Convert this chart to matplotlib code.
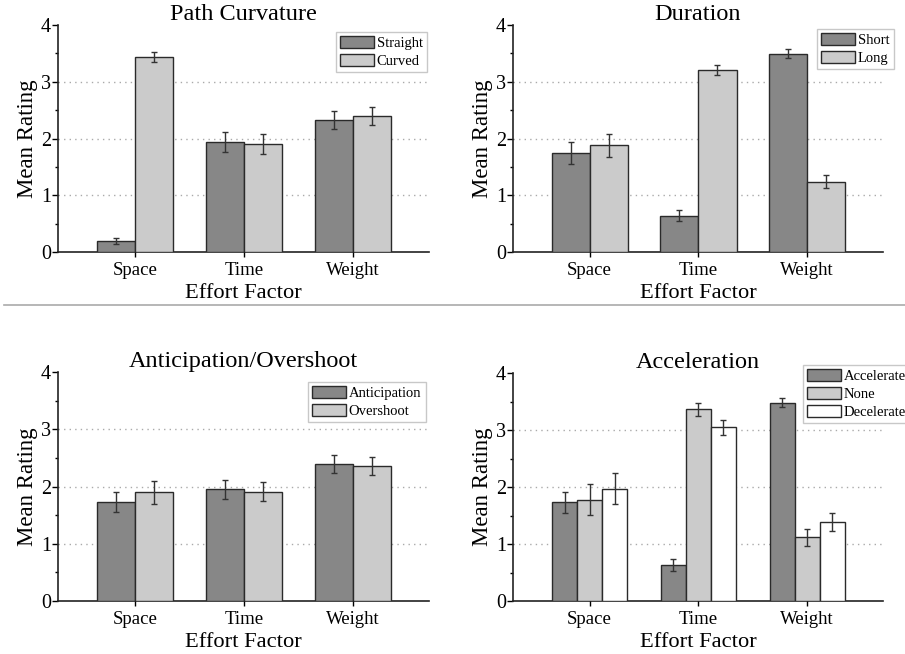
import numpy as np
import matplotlib
matplotlib.use("Agg")
import matplotlib.pyplot as plt
from matplotlib.lines import Line2D
from matplotlib.ticker import MultipleLocator

plt.rcParams['font.family'] = ['Liberation Serif', 'DejaVu Serif']

categories = ["Space", "Time", "Weight"]

# Path Curvature
pc_labels = ["Straight", "Curved"]
pc_vals = [[0.19, 1.94, 2.33], [3.43, 1.90, 2.40]]
pc_errs = [[0.05, 0.17, 0.16], [0.09, 0.18, 0.16]]

# Duration
du_labels = ["Short", "Long"]
du_vals = [[1.74, 0.64, 3.49], [1.88, 3.21, 1.24]]
du_errs = [[0.19, 0.10, 0.08], [0.20, 0.09, 0.12]]

# Anticipation/Overshoot
ao_labels = ["Anticipation", "Overshoot"]
ao_vals = [[1.73, 1.95, 2.39], [1.90, 1.91, 2.36]]
ao_errs = [[0.18, 0.17, 0.16], [0.20, 0.16, 0.16]]

# Acceleration
ac_labels = ["Accelerate", "None", "Decelerate"]
ac_vals = [[1.73, 0.63, 3.48], [1.78, 3.36, 1.12], [1.97, 3.05, 1.38]]
ac_errs = [[0.19, 0.10, 0.08], [0.27, 0.11, 0.15], [0.27, 0.13, 0.16]]

titles = ["Path Curvature", "Duration", "Anticipation/Overshoot", "Acceleration"]

colors = ["#878787", "#cbcbcb", "#ffffff"]

W, H = 905, 654
fig = plt.figure(figsize=(W / 100, H / 100), dpi=100)

def rect(l, r, t, b):
    return [l / W, (H - b) / H, (r - l) / W, (b - t) / H]

rects = [rect(58, 429, 25, 252), rect(513, 883, 25, 252),
         rect(58, 429, 372, 601), rect(513, 883, 373, 601)]
legend_anchor = [(336, 32), (817, 29), (308, 382), (803, 365)]

datasets = [(pc_labels, pc_vals, pc_errs), (du_labels, du_vals, du_errs),
            (ao_labels, ao_vals, ao_errs), (ac_labels, ac_vals, ac_errs)]

x = np.arange(len(categories))
for i, (labels, vals, errs) in enumerate(datasets):
    ax = fig.add_axes(rects[i])
    n = len(labels)
    width = 0.35 if n == 2 else 0.23
    for j in range(n):
        off = (j - (n - 1) / 2) * width
        ax.bar(x + off, vals[j], width, color=colors[j], edgecolor="#2a2a2a",
               linewidth=1.0, label=labels[j], zorder=3)
        ax.errorbar(x + off, vals[j], yerr=errs[j], fmt="none", ecolor="#333333",
                    elinewidth=1.0, capsize=2.5, capthick=1.0, zorder=4)
    for g in [1, 2, 3]:
        ax.axhline(g, color="#aaaaaa", linestyle=(0, (1, 3)), linewidth=1.0, zorder=1)
    ax.set_xlim(-0.705, 2.697)
    ax.set_ylim(0, 4)
    ax.set_xticks(x)
    ax.set_xticklabels(categories, fontsize=13.5)
    ax.set_yticks([0, 1, 2, 3, 4])
    ax.yaxis.set_minor_locator(MultipleLocator(0.5))
    ax.tick_params(axis="y", which="major", direction="out", length=4, width=1,
                   labelsize=14.5, pad=1)
    ax.tick_params(axis="y", which="minor", direction="out", length=2.5, width=1)
    ax.tick_params(axis="x", which="major", direction="inout", length=7, width=1,
                   labelsize=13.5, pad=4)
    for s in ["top", "right"]:
        ax.spines[s].set_visible(False)
    for s in ["left", "bottom"]:
        ax.spines[s].set_linewidth(1.2)
        ax.spines[s].set_color("#222222")
    ax.set_xlabel("Effort Factor", fontsize=16.2, labelpad=3)
    ax.set_ylabel("Mean Rating", fontsize=16.4, labelpad=2)
    ax.set_title(titles[i], fontsize=17.5, pad=1)
    lx, ly = legend_anchor[i]
    leg = ax.legend(loc="upper left", bbox_to_anchor=(lx / W, (H - ly) / H),
                    bbox_transform=fig.transFigure, fontsize=10.5, frameon=True,
                    fancybox=False, edgecolor="#bbbbbb", handlelength=2.3,
                    handleheight=0.8, handletextpad=0.2, borderpad=0.3,
                    labelspacing=0.3, borderaxespad=0)
    leg.get_frame().set_linewidth(1.0)

fig.add_artist(Line2D([4 / W, 1.0], [(H - 305) / H, (H - 305) / H],
                      transform=fig.transFigure, color="#aaaaaa", linewidth=1.2))

fig.savefig("out.png", dpi=100)
